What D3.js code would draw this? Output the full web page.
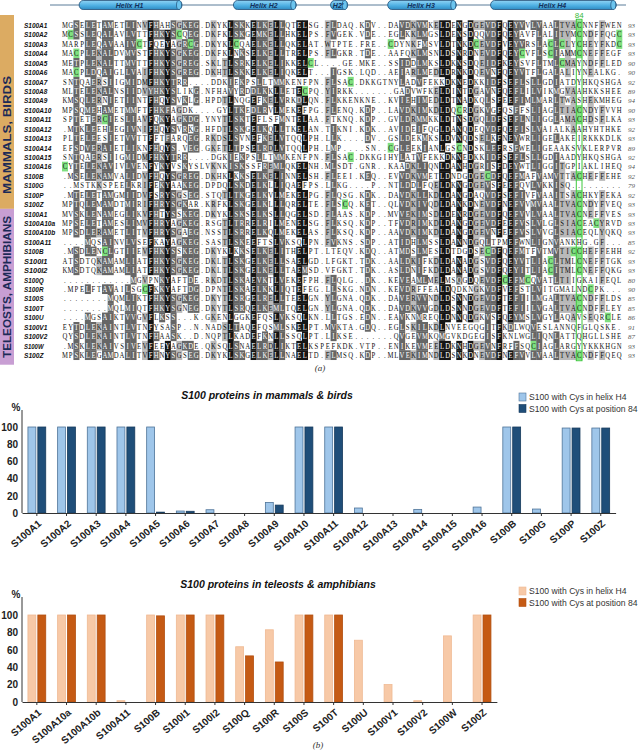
<!DOCTYPE html>
<html><head><meta charset="utf-8">
<script src="https://cdn.jsdelivr.net/npm/d3@7"></script>
<style>body{margin:0;background:#fff}</style>
</head><body>
<script>
// ---------------- DATA ----------------
const seqNames = ["S100A1","S100A2","S100A3","S100A4","S100A5","S100A6","S100A7","S100A8","S100A9","S100A10","S100A11","S100A12","S100A13","S100A14","S100A15","S100A16","S100B","S100G","S100P","S100Z",
  "S100A1","S100A10a","S100A10b","S100A11","S100B","S100I1","S100I2","S100Q","S100R","S100S","S100T","S100U","S100V1","S100V2","S100W","S100Z"];
const seqs = [
"MGSELETAMETLINVFHAHSGKEG.DKYKLSKKELKELLQTELSG.FLDAQ.KDV..DAVDKVMKELDENGDGEVDFQEYVVLVAALTVACNNFFWEN",
"MCSSLEQALAVLVTTFHKYSCQEG.DKFKLSKGEMKELLHKELPS.FVGEK.VDE..EGLKKLMGSLDENSDQQVDFQEYAVFLALITVMCNDFFQGC",
"MARPLEQAVAAIVCTFQEYAGRCG.DKYKLCQAELKELLQKELAT.WTPTE.FRE..CDYNKFMSVLDTNKDCEVDFVEYVRSLACLCLYCHEYFKDC",
"MACPLEKALDVMVSTFHKYSGKEG.DKFKLNKSELKELLTRELPS.FLGKR.TDE..AAFQKLMSNLDSNRDNEVDFQEYCVFLSCIAMMCNEFFEGF",
"METPLEKALTTMVTTFHKYSGREG.SKLTLSRKELKELIKKELCL....GE.MKE..SSIDDLMKSLDKNSDQEIDFKEYSVFLTMLCMAYNDFFLED",
"MACPLDQAIGLLVAIFHKYSGREG.DKHTLSKKELKELIQKELT...IGSK.LQD..AEIARLMEDLDRNKDQEVNFQEYVTFLGALALIYNEALKG.",
"SNTQAERSIIGMIDMFHKYTRR....DDKIEKPSLLTMMKENFPN.FLSAC.DKKGTNYLADVFEKKDKNEDKKIDFSEFLSLLGDIATDYHKQSHGA",
"MLTELEKALNSIIDVYHKYSLIKG.NFHAVYRDDLKKLLETECPQ.YIRKK.......GADVWFKELDINTDGAVNFQEFLILVIKMGVAAHKKSHEE",
"KMSQLERNIETIINTFHQYSVKLG.HPDTLNQGEFKELVRKDLQN.FLKKENKNE..KVIEHIMEDLDTNADKQLSFEEFIMLMARLTWASHEKMHEG",
"MPSQMEHAMETMMFTFHKFAGDK....GYLTKEDLRVLMEKEFPG.FLENQ.KDP..LAVDKIMKDLDQCRDGKVGFQSFFSLIAGLTIACNDYFVVH",
"SPTETERCIESLIAVFQKYAGKDG.YNYTLSKTEFLSFMNTELAA.FTKNQ.KDP..GVLDRMMKKLDTNSDGQLDFSEFLNLIGGLAMACHDSFLKA",
".MTKLEEHLEGIVNIFHQYSVRKG.HFDTLSKGELKQLLTKELAN.TIKNI.KDK..AVIDEIFQGLDANQDEQVDFQEFISLVAIALKAAHYHTHKE",
"PLTELEESIETVVTTFFTFARQEG.RKDSLSVNEFKELVTQQLPH.LLK....DV..GSLDEKMKSLDVNQDSELKFNEYWRLIGELAKEIRKKKDLK",
"EFSDVERAIETLIKNFHQYS.VEG.GKETLTPSELRDLVTQQLPH.LMP....SN..CGLEEKIANLGSCNDSKLEFRSFWELIGEAAKSVKLERPVR",
"SNTQAERSIIGMIDMFHKYTRR....DGKIEKPSLLTMMKENFPN.FLSAC.DKKGIHYLATVFEKKDKNEDKKIDFSEFLSLLGDIAADYHKQSHGA",
"CYTELEKAVIVLVENFYKYVSKYSLVKNKISKSSFREMLQKELNH.MLSDT.GNR..KAADKLIQNLDANHDGRISFDEYWTLIGGITGPIAKLIHEQ",
".MSELEKAMVALIDVFHQYSGREG.DKHKLKKSELKELINNELSH.FLEEI.KEQ..EVVDKVMETLDNDGDGECDFQEFMAFVAMVTTACHEFFEHE",
"..MSTKKSPEELKRIFEKYAAKEG.DPDQLSKDELKLLIQAEFPS.LLKG....P..NTLDDLFQELDKNGDGEVSFEEFQVLVKKISQ.........",
".MTELETAMGMIIDVFSRYSGSEG.STQTLTKGELKVLMEKELPG.FLQSG.KDK..DAVDKLLKDLDANGDAQVDFSEFIVFVAAITSACHKYFEKA",
"MPTQLEMAMDTMIRIFHRYSGKAR.KRFKLSKGELKLLLQRELTE.FLSCQ.KET..QLVDKIVQDLDANKDNEVDFNEFVVMVAALTVACNDYFVEQ",
"MVSKLENAMEGLIKVFHTYSSKEG.DKYKLSKSELKSLLQGELSD.FLAAS.KDP..MVVEKIMSDLDENRDGEVDFQEFVVLVAALTVACNEFFVES",
"MPSELETAMESLIMVFHRYAGKEG.RSGTLTRRELRILMENELSG.FLKSQ.KDP..TFVDRIMKDLDANGDGEVDFEEFVSLVLGLSIACEACYRVD",
"MPSDLERAMETLITVFHRYSGAEG.NSSTLSRRELKQLMEKELAS.FLKSQ.KDP..AAVDKIMKDLDANGDGEVNFEEFVSLVVGLSIACEQLYQKQ",
"....MQSAINVLVSEFKAYAGKEG.SASTLSKEEFTSLVKSQLPN.FVKNS.SDP..ATIDHLMSSLDANNDGQLTPMEFWNLIGNVANKHG.GF...",
".MSDLENCLGTIIEVFHKYSSKEG.DKYKLKKSELKELITHELPT.LTEQV.KDQ..ATMDSLMESLDTDGDSECDFQEFMTFVTMVTICCHEFFEHH",
"ATSDTQKAMAMLIATFHKYSGKEG.DKLTLSKGELKELLSAELGD.LFGKT.TDK..AALDKIFKDLDANADGSVDFQEYVTLIACLTMLCNEFFTGK",
"KMSDTQKAMAMLIATFHKYSGKEG.DKLTLSKGELKELLTAEMSD.VFGKT.TDK..ASLDNIFKDLDANADGSVDFQEYITLIACITMLCNEFFQKG",
"............MGVPNKYAFTDE.RKDTLSKAEVKTLVEKEFPH.FLQLG..DK..KEVEAMLMELMSQGDQEVDFCEFMCQVATLTIIGKAIFEQL",
".MPELFTAVAILSGCFKKYAFTDG.DPNTLSKAELKKLIQTEFEG.LLSKG.NDN..KEVDRFFEALDQDKNGKVDFVEFSTLVITGMALNDCPK...",
"........MQMLIKTFHKYSGKEG.DKYTLSRGELRELLTEELGN.YLGNA.QDK..DAVERVVNDLDSNNDGEVDFTEFIILMGALTVACNDFFLDS",
"........MQLMIQTFHKYSGNEG.DKYTLSRQELKEMLTQELGN.YLGNA.QDK..DAVDKVVGDLDSNNDGEVDFTEFIILVGALTVACNDFFLEY",
"....MGSAIKTVVGVFLKSS...K.GKENLGGKEFQSLVKSQLKN.LLTGS.EDN..EAVKNMREQLDNNQDGKVSFQEYMSLVGYLAQAVSEQRCLE",
"EYTDLEKAINTLVTNFYSASP..N.NADSLTAQEFQSMLSKELPT.MVKTA.GDQ..EGLSKILKDLNVEEGQGITFKDLWQVESLANNQFGLQSKE.",
"QYSDLEKAINTLVTNFHAASK..D.NQPTLKADEFKNLLSSQLPT.LIKSE.......QVGEVMKQMGVKDGEGISFKNLWGLIQNLATTQHGLLSHE",
".MSKLEKAIVSIVEVFEEYAGKDE.QKSQLSNAELRDLIKTELKSPEFKDK.VTP..ENIKEVMEELDKNHDGEVNFRFFSQCIAGLARGYYKKKHGN",
"MPSKLEGAMDALITVFHNYSGSEG.DKYKLSKGELKELLNAELTD.FLMSQ.KDP..MLVEKIMNDLDSNKDNEVDFNEFVVLVAALTVACNDFFQEQ"
];
const seqEnds = [93,93,93,93,90,90,92,89,94,90,93,92,93,89,92,94,92,79,92,93,
                 93,93,93,85,92,93,93,80,90,85,85,86,91,87,93,93];
const groupLabels = ["MAMMALS, BIRDS","TELEOSTS, AMPHIBIANS"];
const groupSizes = [20,16];
const helixNames = ["Helix H1","Helix H2","H2'","Helix H3","Helix H4"];
const helixStart = [4,31,48,58,76];
const helixEnd   = [21,41,50,69,97];
const markColumn = 91, markLabel = "84";

const mamCats = ["S100A1","S100A2","S100A3","S100A4","S100A5","S100A6","S100A7","S100A8","S100A9","S100A10","S100A11","S100A12","S100A13","S100A14","S100A15","S100A16","S100B","S100G","S100P","S100Z"];
const mamH4   = [100,100,100,100,100,2.3,3.8,0,12.3,100,100,5.8,0,4.2,0,6.9,100,4.6,98.8,98.8];
const mamP84  = [100,100,100,100,1,2,0,0,9.2,100,100,0,0,0,0,0,100,0,98.8,98.8];
const telCats = ["S100A1","S100A10a","S100A10b","S100A11","S100B","S100I1","S100I2","S100Q","S100R","S100S","S100T","S100U","S100V1","S100V2","S100W","S100Z"];
const telH4   = [100,100,100,1.5,100,100,100,63.5,83,100,100,71,20,1.5,76,100];
const telP84  = [100,100,100,0,99,100,100,53,46,100,100,0,0,0,0,100];
const seriesNames = ["S100 with Cys in helix H4","S100 with Cys at position 84"];
const yTicks = [0,20,40,60,80,100];

// ---------------- LAYOUT ----------------
const W = 640, H = 751;
const svg = d3.select("body").append("svg").attr("width", W).attr("height", H)
  .style("background","#fff").style("font-family","Liberation Sans, Arial, sans-serif");

const nCols = 98;
const colX = d3.scaleLinear().domain([0, nCols]).range([62, 622]);
const colW = colX(1) - colX(0);
const rowY = d3.scaleLinear().domain([0, 35]).range([25, 355]);
const rowH = rowY(1) - rowY(0);

// conservation shading
const grp = {I:"h",L:"h",V:"h",M:"h",F:"a",Y:"a",W:"a",K:"+",R:"+",D:"-",E:"-",S:"s",T:"s",N:"n",Q:"n",A:"A",G:"G",H:"H",P:"P",C:"C"};
const S = seqs.map(s => s.padEnd(nCols, ".").slice(0, nCols));
const nS = S.length;
const colInfo = d3.range(nCols).map(j => {
  const ids = d3.rollup(S.map(s => s[j]).filter(c => c !== "."), v => v.length, c => c);
  const gs = d3.rollup(S.map(s => s[j]).filter(c => c !== "."), v => v.length, c => grp[c]);
  let topR = null, topRc = 0; ids.forEach((v,k) => { if (v > topRc) { topRc = v; topR = k; } });
  let topG = null, topGc = 0; gs.forEach((v,k) => { if (v > topGc) { topGc = v; topG = k; } });
  return {topR, idF: topRc / nS, topG, gF: topGc / nS};
});
function level(c, j) {
  if (c === ".") return 0;
  const ci = colInfo[j];
  if (c === ci.topR && ci.idF >= 0.75) return 3;
  if (grp[c] === ci.topG && ci.gF >= 0.6) return 2;
  if (grp[c] === ci.topG && ci.gF >= 0.45) return 1;
  return 0;
}
const shadeFill = ["none","#b9b9b9","#666666","#151515"];
const textFill  = ["#111","#111","#fff","#fff"];

// group side bars
const gA = svg.append("g");
let start = 0;
const gColors = ["#dcab62","#c89ed3"];
const gBounds = [[15, rowY(19) + rowH/2], [rowY(19) + rowH/2, rowY(35) + rowH/2 + 5]];
const gTextY = [135, 287];
const gTextLen = [118, 142];
groupLabels.forEach((lab, gi) => {
  gA.append("rect").attr("x", 0).attr("y", gBounds[gi][0]).attr("width", 14)
    .attr("height", gBounds[gi][1] - gBounds[gi][0]).attr("fill", gColors[gi]);
  gA.append("text").attr("transform", `translate(11,${gTextY[gi]}) rotate(-90)`)
    .attr("text-anchor","middle").attr("font-size", 11).attr("font-weight","bold")
    .attr("fill","#1c2a57").attr("textLength", gTextLen[gi]).attr("lengthAdjust","spacingAndGlyphs")
    .text(lab);
});

// helix line & cylinders
const gH = svg.append("g");
gH.append("line").attr("x1", 50).attr("x2", 626).attr("y1", 5).attr("y2", 5)
  .attr("stroke", "#5b7d99").attr("stroke-width", 1);
const defs = svg.append("defs");
const grad = defs.append("linearGradient").attr("id","hg").attr("x1",0).attr("y1",0).attr("x2",0).attr("y2",1);
grad.append("stop").attr("offset","0%").attr("stop-color","#8fd3f4");
grad.append("stop").attr("offset","55%").attr("stop-color","#4fb0e3");
grad.append("stop").attr("offset","100%").attr("stop-color","#2f8cc4");
helixNames.forEach((nm, i) => {
  const x1 = colX(helixStart[i] - 1), x2 = colX(helixEnd[i]);
  gH.append("rect").attr("x", x1).attr("y", 0.5).attr("width", x2 - x1).attr("height", 9)
    .attr("rx", 4).attr("ry", 4.5).attr("fill", "url(#hg)").attr("stroke", "#1f4f78").attr("stroke-width", 0.8);
  gH.append("ellipse").attr("cx", x2 - 3).attr("cy", 5).attr("rx", 2.5).attr("ry", 4.5)
    .attr("fill", "#6cc4ee").attr("stroke", "#1f4f78").attr("stroke-width", 0.7);
  gH.append("text").attr("x", (x1 + x2) / 2 - 1).attr("y", 7.6).attr("text-anchor","middle")
    .attr("font-size", 7).attr("font-weight","bold").attr("font-style","italic").attr("fill","#14305a").text(nm);
});

// alignment
const gAl = svg.append("g");
S.forEach((s, i) => {
  const y = rowY(i);
  for (let j = 0; j < nCols; j++) {
    const c = s[j];
    const lv = level(c, j);
    const isC = c === "C";
    if (isC || lv > 0) {
      gAl.append("rect").attr("x", colX(j)).attr("y", y - rowH/2).attr("width", colW + 0.3).attr("height", rowH + 0.3)
        .attr("fill", isC ? "#7fe07f" : shadeFill[lv]);
    }
    gAl.append("text").attr("transform", `translate(${colX(j) + colW/2},${y + 3}) scale(0.78,1)`)
      .attr("text-anchor","middle").attr("font-family","Liberation Serif, Times, serif").attr("font-size", 8.6)
      .attr("fill", isC ? "#111" : textFill[lv]).text(c);
  }
  gAl.append("text").attr("x", 24).attr("y", y + 3).attr("font-size", 8).attr("font-weight","bold")
    .attr("font-style","italic").attr("fill","#111")
    .attr("textLength", seqNames[i].length * 3.9).attr("lengthAdjust","spacingAndGlyphs").text(seqNames[i]);
  gAl.append("text").attr("x", 628).attr("y", y + 3).attr("font-size", 7).attr("font-style","italic")
    .attr("font-family","Liberation Serif, serif").attr("fill","#555").text(seqEnds[i]);
});
// position 84 box
gAl.append("rect").attr("x", colX(markColumn - 1)).attr("y", rowY(0) - rowH/2 - 1)
  .attr("width", colW).attr("height", rowY(35) - rowY(0) + rowH + 2)
  .attr("fill","none").attr("stroke","#3cc83c").attr("stroke-width", 1);
gAl.append("text").attr("x", colX(markColumn - 1) + colW/2).attr("y", 17.5).attr("text-anchor","middle")
  .attr("font-size", 8).attr("fill","#3cb83c").text(markLabel);
svg.append("text").attr("x", 320).attr("y", 371).attr("text-anchor","middle").attr("font-size", 9)
  .attr("font-style","italic").attr("font-family","Liberation Serif, serif").attr("fill","#333").text("(a)");

// ---------------- BAR CHARTS ----------------
function drawChart(o) {
  const g = svg.append("g");
  const step = 29.68;
  const x = d3.scaleBand().domain(o.cats).range([22, 22 + o.cats.length * step])
    .paddingInner(0.4).paddingOuter(0.2);
  const xs = d3.scaleBand().domain([0,1]).range([0, x.bandwidth()]).paddingInner(0.2);
  const y = d3.scaleLinear().domain([0,100]).range([o.yBase, o.yTop]);
  const vals = [o.h4, o.p84];
  o.cats.forEach((c, i) => {
    [0,1].forEach(k => {
      const v = vals[k][i];
      if (v <= 0) return;
      g.append("rect").attr("x", x(c) + xs(k)).attr("y", y(v)).attr("width", xs.bandwidth())
        .attr("height", y(0) - y(v)).attr("fill", o.fills[k]).attr("stroke", o.strokes[k]).attr("stroke-width", 0.8);
    });
  });
  // y axis
  const ya = g.append("g").attr("transform", "translate(22,0)")
    .call(d3.axisLeft(y).tickValues(yTicks).tickSize(0).tickPadding(4));
  ya.select(".domain").attr("d", `M0,${o.axisTop}V${o.yBase}`).attr("stroke","#333");
  ya.selectAll("text").attr("font-size", 10).attr("font-weight","bold").attr("fill","#222")
    .attr("font-family","Liberation Sans, Arial, sans-serif");
  // x axis
  const xa = g.append("g").attr("transform", `translate(0,${o.yBase})`)
    .call(d3.axisBottom(x).tickSize(3).tickSizeOuter(0));
  xa.select(".domain").attr("stroke","#333");
  xa.selectAll("line").attr("stroke","#333");
  xa.selectAll("text").attr("font-size", 10).attr("font-weight","bold").attr("fill","#222")
    .attr("font-family","Liberation Sans, Arial, sans-serif")
    .attr("text-anchor","end").attr("x", 0).attr("y", 0).attr("dy","0.35em")
    .attr("transform","translate(3,9) rotate(-40)");
  g.append("text").attr("x", 16).attr("y", o.pctY).attr("text-anchor","middle").attr("font-size", 10)
    .attr("font-weight","bold").attr("fill","#222").text("%");
  g.append("text").attr("x", o.titleX).attr("y", o.titleY).attr("text-anchor","middle").attr("font-size", 10.5)
    .attr("font-weight","bold").attr("font-style","italic").attr("fill","#111").text(o.title);
  seriesNames.forEach((s, k) => {
    const ly = o.legendY + k * 11.5;
    g.append("rect").attr("x", 519).attr("y", ly).attr("width", 7).attr("height", 8)
      .attr("fill", o.fills[k]).attr("stroke", o.strokes[k]).attr("stroke-width", 0.6);
    g.append("text").attr("x", 529).attr("y", ly + 7).attr("font-size", 8.6).attr("fill","#333").text(s);
  });
}
drawChart({cats: mamCats, h4: mamH4, p84: mamP84, yTop: 427, yBase: 513, axisTop: 410,
  fills: ["#9fc6ea","#1f4e79"], strokes: ["#4f7499","#163a5c"],
  title: "S100 proteins in mammals & birds", titleX: 267, titleY: 399, legendY: 393, pctY: 411});
drawChart({cats: telCats, h4: telH4, p84: telP84, yTop: 615, yBase: 702, axisTop: 597,
  fills: ["#f7c9a7","#c55a14"], strokes: ["#efb993","#b24f10"],
  title: "S100 proteins in teleosts & amphibians", titleX: 278, titleY: 588, legendY: 587, pctY: 598});
svg.append("text").attr("x", 318).attr("y", 748).attr("text-anchor","middle").attr("font-size", 9)
  .attr("font-style","italic").attr("font-family","Liberation Serif, serif").attr("fill","#333").text("(b)");
</script>
</body></html>
